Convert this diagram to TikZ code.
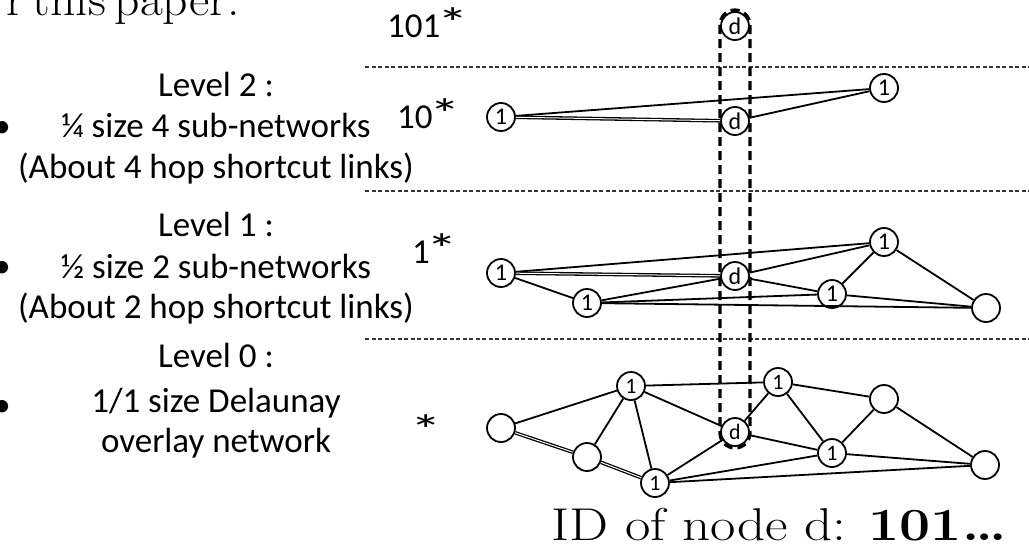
\documentclass[tikz,border=0pt]{standalone}
\usepackage{fontspec}
\newfontfamily\slidefont{Carlito}
\newcommand\wildstar{\kern-3pt\scalebox{1.5}[1.0]{\fontsize{42}{42}\selectfont *}}
\tikzset{
  peer/.style={circle, draw, line width=1.8pt, fill=white, minimum size=28pt,
    inner sep=0pt, font=\slidefont\fontsize{24}{24}\selectfont},
  peersmall/.style={peer, font=\slidefont\fontsize{22}{22}\selectfont},
  netlink/.style={line width=1.8pt},
  twinlink/.style={line width=1.3pt, double, double distance=1pt},
  levelsep/.style={line width=1.1pt, black!80, dash pattern=on 4pt off 2.5pt},
  dcolumn/.style={line width=3.2pt, dash pattern=on 9pt off 5pt, rounded corners=15pt},
  slidetext/.style={font=\slidefont\fontsize{35}{41}\selectfont, inner sep=0pt, anchor=base},
  idprefix/.style={font=\slidefont\fontsize{35}{41}\selectfont, inner sep=0pt, anchor=base west},
  headserif/.style={font=\fontsize{46}{52}\selectfont, inner sep=0pt, xscale=1.08, transform shape},
  capserif/.style={font=\fontsize{46}{52}\selectfont, inner sep=0pt, xscale=1.2, transform shape},
}
\begin{document}
\begin{tikzpicture}[x=1pt,y=-1pt]
\useasboundingbox (0,0) rectangle (1029,552);

% heading remnant at the top
\node[headserif, anchor=base east] (head) at (240,15) {\spaceskip=8pt\relax r this paper.};

% left-hand explanation of the levels
\node[slidetext] (bul2) at (2,137) {•};
\node[slidetext] (bul1) at (2,277) {•};
\node[slidetext] (bul0) at (2,416) {•};
\node[slidetext] (t2a) at (216,96.5) {Level 2 :};
\node[slidetext] (t2b) at (216,137.5) {¼ size 4 sub-networks};
\node[slidetext] (t2c) at (216,178) {(About 4 hop shortcut links)};
\node[slidetext] (t1a) at (216,236) {Level 1 :};
\node[slidetext] (t1b) at (216,278) {½ size 2 sub-networks};
\node[slidetext] (t1c) at (216,318) {(About 2 hop shortcut links)};
\node[slidetext] (t0a) at (216,367) {Level 0 :};
\node[slidetext] (t0b) at (216,412) {1/1 size Delaunay};
\node[slidetext] (t0c) at (216,452) {overlay network};

% ID prefixes of the levels
\node[idprefix] (p3) at (387,37) {101\wildstar};
\node[idprefix] (p2) at (397,128) {10\wildstar};
\node[idprefix] (p1) at (412,263) {1\wildstar};
\node[idprefix] (p0) at (413,444) {\wildstar};

% separators between the levels
\coordinate (s1w) at (365,67);  \coordinate (s1e) at (1029,67);
\coordinate (s2w) at (365,191); \coordinate (s2e) at (1029,191);
\coordinate (s3w) at (365,339); \coordinate (s3e) at (1029,339);
\draw[levelsep] (s1w) -- (s1e);
\draw[levelsep] (s2w) -- (s2e);
\draw[levelsep] (s3w) -- (s3e);

% column through all copies of node d
\coordinate (colNW) at (720,10);
\coordinate (colSE) at (750,448);
\draw[dcolumn] (colNW) rectangle (colSE);

% level 3 (101*)
\node[peer] (d3) at (735,26) {d};

% level 2 (10*)
\node[peer] (a2) at (501,117) {1};
\node[peer] (d2) at (735,121) {d};
\node[peer] (b2) at (884,88) {1};
\draw[netlink] (a2) -- (b2);
\draw[twinlink] (a2) -- (d2);
\draw[netlink] (d2) -- (b2);

% level 1 (1*)
\node[peer] (a1) at (501,273) {1};
\node[peer] (b1) at (587,303) {1};
\node[peer] (d1) at (735,276) {d};
\node[peer] (c1) at (832,294) {1};
\node[peer] (e1) at (884,242) {1};
\node[peer] (f1) at (986,308) {};
\draw[netlink] (a1) -- (e1);
\draw[twinlink] (a1) -- (d1);
\draw[netlink] (a1) -- (b1);
\draw[netlink] (b1) -- (d1);
\draw[netlink] (b1) -- (c1);
\draw[netlink] (b1) -- (f1);
\draw[netlink] (d1) -- (e1);
\draw[netlink] (d1) -- (c1);
\draw[netlink] (c1) -- (e1);
\draw[netlink] (c1) -- (f1);
\draw[netlink] (e1) -- (f1);

% level 0 (full Delaunay overlay)
\node[peersmall] (A) at (501,428) {};
\node[peersmall] (B) at (587,457) {};
\node[peersmall] (C) at (631,386) {1};
\node[peersmall] (D) at (655,483) {1};
\node[peersmall] (E) at (735,432) {d};
\node[peersmall] (F) at (778,382) {1};
\node[peersmall] (G) at (884,399) {};
\node[peersmall] (H) at (832,453) {1};
\node[peersmall] (I) at (985,465) {};
\draw[netlink] (A) -- (C);
\draw[twinlink] (A) -- (B);
\draw[netlink] (B) -- (C);
\draw[twinlink] (B) -- (D);
\draw[netlink] (C) -- (D);
\draw[netlink] (C) -- (E);
\draw[netlink] (C) -- (F);
\draw[netlink] (D) -- (E);
\draw[netlink] (D) -- (H);
\draw[netlink] (D) -- (I);
\draw[netlink] (E) -- (F);
\draw[netlink] (E) -- (H);
\draw[netlink] (F) -- (H);
\draw[netlink] (F) -- (G);
\draw[netlink] (G) -- (H);
\draw[netlink] (G) -- (I);
\draw[netlink] (H) -- (I);

% caption
\node[capserif, anchor=base west] (cap) at (551,540) {ID of node d: \textbf{101…}};
\end{tikzpicture}
\end{document}
